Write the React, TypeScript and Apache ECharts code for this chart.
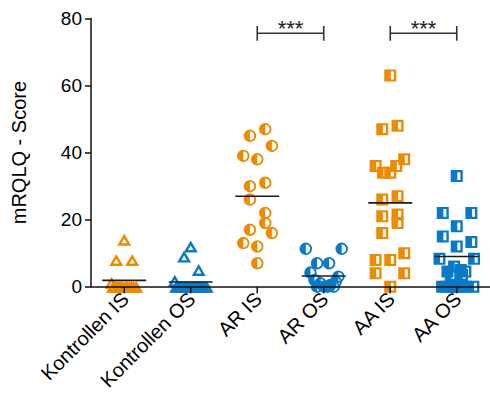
import React, { useEffect, useRef } from "react";
import * as echarts from "echarts";

const categories = ["Kontrollen IS", "Kontrollen OS", "AR IS", "AR OS", "AA IS", "AA OS"];
const yMin = 0;
const yMax = 80;
const yInterval = 20;

// values and horizontal jitter (in category units)
const kontrollenISValues = [14, 8, 8, 1.2, 0, 0, 0, 0, 0, 0, 0, 0, 0, 0, 0, 0];
const kontrollenISJitter = [0, -0.12, 0.12, -0.19, -0.17, -0.14, -0.11, -0.08, -0.05, -0.02, 0.02, 0.05, 0.08, 0.11, 0.14, 0.18];

const kontrollenOSValues = [12, 9, 5, 1.8, 0, 0, 0, 0, 0, 0, 0, 0, 0, 0, 0, 0, 0, 0, 0, 0];
const kontrollenOSJitter = [0, -0.1, 0.12, -0.24, -0.22, -0.19, -0.16, -0.13, -0.1, -0.07, -0.04, -0.01, 0.02, 0.05, 0.08, 0.11, 0.14, 0.17, 0.2, 0.24];

const arISValues = [47, 45, 42, 39, 38, 31, 30, 26, 22, 19, 16, 17, 13, 12, 7];
const arISJitter = [0.12, -0.11, 0.22, -0.21, 0, 0.12, -0.11, -0.11, 0.12, 0.12, 0.22, -0.11, -0.21, 0, 0];

const arOSValues = [11.3, 11.3, 7, 7, 4.2, 3, 2, 1.5, 1, 0.5, 0, 0, 0, 0];
const arOSJitter = [-0.27, 0.27, -0.1, 0.08, -0.2, 0.22, -0.14, 0.18, -0.05, 0.1, -0.1, 0, 0.06, 0.15];

const aaISValues = [63, 47, 48, 36, 34, 34, 36, 38, 26, 27, 21, 21.5, 19, 16, 8, 8, 10, 4, 4, 0];
const aaISJitter = [0, -0.12, 0.11, -0.22, -0.11, 0, 0.09, 0.21, -0.12, 0.11, -0.12, 0.11, 0.11, -0.12, -0.22, 0, 0.21, -0.22, 0.21, 0];

const aaOSValues = [33, 22, 22, 18, 15, 13.3, 12, 8.3, 8.3, 6, 5, 4.5, 4.5, 3.5, 3.5, 0, 0, 0, 0, 0, 0, 0, 0];
const aaOSJitter = [0, -0.21, 0.22, 0, -0.21, 0.22, 0, -0.26, 0.26, -0.04, 0.06, -0.14, 0.13, -0.09, 0.08, -0.22, -0.16, -0.1, -0.04, 0.02, 0.08, 0.14, 0.25];

const groupMeans = [1.9, 1.4, 27, 3.2, 25, 9];
const meanHalfWidth = 0.33;

const bracketPairs = [
  [2, 3],
  [4, 5],
];
const bracketLevel = 75.6;
const bracketTick = 2.2;
const bracketLabel = "***";
const bracketLabelLevel = 77.0;

const ORANGE = "#EE8A00";
const BLUE = "#0A7AC8";
const FONT = "Liberation Sans";

const TRIANGLE = "path://M10 0 L20 18 L0 18 Z M10 7.4 L6.1 14.4 L13.9 14.4 Z";
const HALF_CIRCLE =
  "path://M10 0 A10 10 0 1 1 10 20 A10 10 0 1 1 10 0 Z M10 3 A7 7 0 1 0 10 17 A7 7 0 1 0 10 3 Z M10 3 L10 17 A7 7 0 0 1 10 3 Z";
const HALF_SQUARE = "path://M0 0 L20 0 L20 20 L0 20 Z M11 3.5 L11 16.5 L16 16.5 L16 3.5 Z";

const groups = [
  { values: kontrollenISValues, jitter: kontrollenISJitter, color: ORANGE, symbol: TRIANGLE, size: [14, 12] },
  { values: kontrollenOSValues, jitter: kontrollenOSJitter, color: BLUE, symbol: TRIANGLE, size: [14, 12] },
  { values: arISValues, jitter: arISJitter, color: ORANGE, symbol: HALF_CIRCLE, size: [12.5, 12.5] },
  { values: arOSValues, jitter: arOSJitter, color: BLUE, symbol: HALF_CIRCLE, size: [12.5, 12.5] },
  { values: aaISValues, jitter: aaISJitter, color: ORANGE, symbol: HALF_SQUARE, size: [12, 12] },
  { values: aaOSValues, jitter: aaOSJitter, color: BLUE, symbol: HALF_SQUARE, size: [12, 12] },
];

export default function App() {
  const ref = useRef<HTMLDivElement>(null);

  useEffect(() => {
    if (!ref.current) return;
    const chart = echarts.init(ref.current, undefined, { renderer: "svg" });

    const series: any[] = [];
    groups.forEach((g, gi) => {
      series.push({
        type: "scatter",
        symbol: g.symbol,
        symbolSize: g.size,
        itemStyle: { color: g.color, opacity: 1 },
        data: g.values.map((v, i) => [gi + g.jitter[i], v]),
        z: 2,
      });
    });
    groupMeans.forEach((m, gi) => {
      series.push({
        type: "line",
        symbol: "none",
        lineStyle: { color: "#1a1a1a", width: 1.6 },
        data: [
          [gi - meanHalfWidth, m],
          [gi + meanHalfWidth, m],
        ],
        z: 4,
      });
    });
    bracketPairs.forEach(([a, b]) => {
      series.push({
        type: "line",
        symbol: "none",
        lineStyle: { color: "#333", width: 1.6 },
        data: [
          [a, bracketLevel + bracketTick],
          [a, bracketLevel - bracketTick],
          [a, bracketLevel],
          [b, bracketLevel],
          [b, bracketLevel + bracketTick],
          [b, bracketLevel - bracketTick],
        ],
        z: 4,
      });
    });

    // bracket labels
    series.push({
      type: "custom",
      clip: false,
      z: 5,
      data: bracketPairs.map(([a, b]) => [(a + b) / 2, bracketLabelLevel]),
      renderItem: (params: any, api: any) => {
        const p = api.coord([api.value(0), api.value(1)]);
        return {
          type: "text",
          x: p[0],
          y: p[1],
          style: {
            text: bracketLabel,
            fontSize: 22,
            fontFamily: FONT,
            fill: "#222",
            align: "center",
            verticalAlign: "middle",
          },
        };
      },
    });

    // category ticks and rotated labels, positioned through the x scale
    series.push({
      type: "custom",
      clip: false,
      z: 10,
      data: categories.map((_, i) => [i, yMin]),
      renderItem: (params: any, api: any) => {
        const idx = params.dataIndex;
        const p = api.coord([api.value(0), api.value(1)]);
        return {
          type: "group",
          children: [
            {
              type: "line",
              shape: { x1: p[0], y1: p[1], x2: p[0], y2: p[1] + 6.5 },
              style: { stroke: "#111", lineWidth: 1.5 },
            },
            {
              type: "text",
              x: p[0] + 1,
              y: p[1] + 9,
              rotation: Math.PI / 4,
              style: {
                text: categories[idx],
                fontSize: 20,
                fontFamily: FONT,
                fill: "#000",
                align: "right",
                verticalAlign: "middle",
              },
            },
          ],
        };
      },
    });

    chart.setOption({
      animation: false,
      textStyle: { fontFamily: FONT },
      grid: { left: 91, top: 18.5, width: 402, height: 268.2, show: false },
      xAxis: {
        type: "value",
        min: -0.5,
        max: 5.5,
        z: 10,
        axisLine: { show: true, onZero: false, lineStyle: { color: "#111", width: 1.5 } },
        axisTick: { show: false },
        axisLabel: { show: false },
        splitLine: { show: false },
      },
      yAxis: {
        type: "value",
        min: yMin,
        max: yMax,
        interval: yInterval,
        name: "mRQLQ - Score",
        nameLocation: "middle",
        nameGap: 62,
        nameTextStyle: { fontSize: 20, color: "#000" },
        axisLine: { show: true, onZero: false, lineStyle: { color: "#111", width: 1.5 } },
        axisTick: { show: true, length: 6, lineStyle: { color: "#111", width: 1.5 } },
        axisLabel: { fontSize: 19, color: "#000", margin: 9 },
        splitLine: { show: false },
      },
      series,
    });

    return () => chart.dispose();
  }, []);

  return (
    <div
      ref={ref}
      style={{ position: "fixed", left: 0, top: 0, width: 490, height: 394, background: "#fff" }}
    />
  );
}
